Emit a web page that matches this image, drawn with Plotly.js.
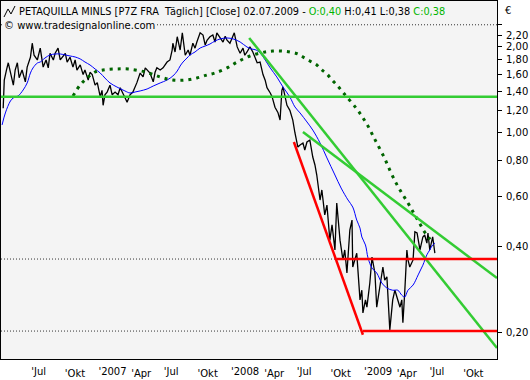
<!DOCTYPE html>
<html>
<head>
<meta charset="utf-8">
<script src="https://cdn.plot.ly/plotly-3.0.1.min.js"></script>
<style>html,body{margin:0;padding:0;background:#fff;}#chart{width:530px;height:380px;}</style>
</head>
<body>
<div id="chart"></div>
<script>
// ---- price (close) ----
const priceDates = ["2006-04-11","2006-04-14","2006-04-20","2006-04-25","2006-05-01","2006-05-09","2006-05-14","2006-05-20","2006-05-25","2006-06-02","2006-06-11","2006-06-16","2006-06-25","2006-06-30","2006-07-05","2006-07-14","2006-07-22","2006-07-30","2006-08-07","2006-08-13","2006-08-18","2006-08-27","2006-09-01","2006-09-09","2006-09-15","2006-09-20","2006-09-29","2006-10-04","2006-10-12","2006-10-20","2006-10-26","2006-10-31","2006-11-09","2006-11-17","2006-11-22","2006-12-01","2006-12-06","2006-12-12","2006-12-20","2006-12-26","2007-01-03","2007-01-08","2007-01-11","2007-01-16","2007-01-22","2007-01-30","2007-02-05","2007-02-13","2007-02-21","2007-02-27","2007-03-04","2007-03-12","2007-03-18","2007-03-26","2007-04-03","2007-04-09","2007-04-14","2007-04-23","2007-05-01","2007-05-07","2007-05-12","2007-05-20","2007-05-29","2007-06-03","2007-06-08","2007-06-17","2007-06-25","2007-07-01","2007-07-06","2007-07-14","2007-07-20","2007-07-22","2007-07-28","2007-08-03","2007-08-11","2007-08-17","2007-08-25","2007-09-02","2007-09-07","2007-09-15","2007-09-21","2007-09-26","2007-10-05","2007-10-13","2007-10-19","2007-10-24","2007-11-01","2007-11-09","2007-11-15","2007-11-20","2007-11-29","2007-12-07","2007-12-13","2007-12-18","2007-12-26","2008-01-02","2008-01-07","2008-01-15","2008-01-23","2008-01-31","2008-02-05","2008-02-11","2008-02-19","2008-02-27","2008-03-04","2008-03-10","2008-03-18","2008-03-26","2008-04-01","2008-04-06","2008-04-15","2008-04-20","2008-04-28","2008-05-06","2008-05-12","2008-05-17","2008-05-20","2008-05-26","2008-05-31","2008-06-08","2008-06-16","2008-06-22","2008-06-27","2008-06-30","2008-07-06","2008-07-14","2008-07-19","2008-07-25","2008-08-02","2008-08-10","2008-08-16","2008-08-21","2008-08-30","2008-09-04","2008-09-12","2008-09-18","2008-09-26","2008-10-02","2008-10-10","2008-10-15","2008-10-24","2008-11-01","2008-11-06","2008-11-12","2008-11-20","2008-11-26","2008-11-28","2008-12-04","2008-12-09","2008-12-18","2008-12-23","2008-12-26","2009-01-02","2009-01-06","2009-01-14","2009-01-20","2009-01-28","2009-02-02","2009-02-11","2009-02-19","2009-02-24","2009-03-02","2009-03-10","2009-03-16","2009-03-18","2009-03-24","2009-03-30","2009-04-07","2009-04-12","2009-04-15","2009-04-20","2009-04-26","2009-04-29","2009-05-04","2009-05-13","2009-05-18","2009-05-24","2009-06-01","2009-06-09","2009-06-14","2009-06-20","2009-06-23","2009-06-28","2009-07-04","2009-07-06","2009-07-12"];
const priceValues = [1.22,1.53,1.66,1.76,1.63,1.47,1.66,1.76,1.56,1.66,1.51,1.70,1.84,2.06,1.87,1.80,1.98,1.70,1.80,1.69,1.90,1.80,1.90,1.98,1.80,1.84,1.90,1.77,1.84,1.70,1.80,1.66,1.73,1.60,1.66,1.53,1.63,1.60,1.47,1.50,1.34,1.41,1.25,1.36,1.39,1.47,1.36,1.39,1.36,1.44,1.39,1.33,1.28,1.36,1.39,1.44,1.50,1.62,1.57,1.69,1.66,1.62,1.51,1.63,1.69,1.66,1.69,1.73,1.77,1.80,1.95,2.06,1.92,2.17,1.95,2.24,1.87,1.95,1.87,2.06,1.98,2.08,2.24,2.20,2.03,2.11,2.17,2.20,2.08,2.24,2.15,2.08,2.18,2.11,2.06,2.15,2.24,2.00,1.90,1.98,1.87,1.92,2.00,1.92,1.83,1.76,1.77,1.60,1.53,1.44,1.38,1.34,1.23,1.18,1.11,1.41,1.45,1.33,1.25,1.20,1.11,1.00,0.945,0.893,0.908,0.923,0.872,0.93,0.945,0.824,0.773,0.713,0.583,0.632,0.517,0.560,0.422,0.477,0.390,0.569,0.422,0.360,0.390,0.324,0.458,0.496,0.340,0.360,0.380,0.261,0.282,0.235,0.261,0.246,0.299,0.368,0.324,0.246,0.289,0.340,0.306,0.314,0.205,0.250,0.261,0.282,0.267,0.246,0.261,0.217,0.276,0.390,0.360,0.340,0.360,0.451,0.447,0.390,0.433,0.440,0.412,0.447,0.390,0.422,0.433,0.380];

// ---- moving average (blue) ----
const maDates = ["2006-04-08","2006-04-17","2006-05-01","2006-05-09","2006-05-22","2006-06-05","2006-06-16","2006-06-25","2006-07-02","2006-07-14","2006-07-22","2006-08-04","2006-08-18","2006-09-01","2006-09-15","2006-09-29","2006-10-12","2006-10-26","2006-11-09","2006-11-22","2006-12-06","2006-12-20","2007-01-03","2007-01-16","2007-01-30","2007-02-18","2007-03-12","2007-03-26","2007-04-09","2007-04-23","2007-05-12","2007-05-29","2007-06-17","2007-07-06","2007-07-22","2007-08-03","2007-08-11","2007-08-19","2007-08-30","2007-09-07","2007-09-21","2007-10-05","2007-10-19","2007-11-01","2007-11-15","2007-11-29","2007-12-18","2008-01-04","2008-01-23","2008-02-11","2008-02-24","2008-03-07","2008-03-18","2008-04-01","2008-04-15","2008-05-03","2008-05-20","2008-06-08","2008-06-22","2008-07-06","2008-07-25","2008-08-10","2008-08-30","2008-09-18","2008-10-10","2008-10-27","2008-11-15","2008-11-28","2008-12-09","2008-12-18","2008-12-23","2009-01-02","2009-01-09","2009-01-20","2009-02-02","2009-02-16","2009-03-02","2009-03-18","2009-04-01","2009-04-12","2009-04-20","2009-04-29","2009-05-13","2009-05-27","2009-06-09","2009-06-20","2009-06-28","2009-07-06","2009-07-12"];
const maValues = [1.067,1.175,1.294,1.326,1.347,1.414,1.496,1.621,1.688,1.757,1.771,1.829,1.874,1.889,1.889,1.874,1.859,1.844,1.815,1.771,1.729,1.674,1.621,1.557,1.496,1.448,1.403,1.380,1.391,1.403,1.425,1.460,1.496,1.532,1.582,1.647,1.715,1.771,1.829,1.874,1.920,1.982,2.014,2.047,2.097,2.132,2.149,2.132,2.081,1.998,1.966,1.951,1.904,1.800,1.688,1.570,1.448,1.336,1.233,1.175,1.093,1.024,0.923,0.818,0.713,0.642,0.583,0.551,0.496,0.465,0.433,0.406,0.366,0.337,0.324,0.299,0.287,0.282,0.282,0.271,0.267,0.282,0.294,0.319,0.345,0.375,0.390,0.406,0.412];

// ---- cycle indicator (dark green dotted) ----
const cycleDates = ["2006-10-20","2006-11-09","2006-12-01","2006-12-20","2007-01-11","2007-02-13","2007-03-21","2007-05-07","2007-06-17","2007-07-22","2007-08-25","2007-09-26","2007-10-24","2007-11-15","2007-12-18","2008-01-15","2008-02-19","2008-04-01","2008-04-22","2008-05-17","2008-06-08","2008-06-30","2008-07-14","2008-08-02","2008-08-21","2008-09-04","2008-09-18","2008-10-02","2008-10-15","2008-10-29","2008-11-12","2008-12-07","2008-12-21","2009-01-02","2009-01-12","2009-01-23","2009-02-02","2009-02-22","2009-03-10","2009-03-27","2009-04-12","2009-04-29","2009-05-10","2009-05-21","2009-06-01","2009-06-12","2009-06-26","2009-07-06"];
const cycleValues = [1.347,1.472,1.570,1.634,1.661,1.674,1.674,1.634,1.570,1.532,1.532,1.557,1.595,1.621,1.688,1.771,1.859,1.920,1.935,1.935,1.920,1.889,1.844,1.786,1.729,1.661,1.608,1.532,1.472,1.403,1.336,1.223,1.156,1.093,1.041,0.976,0.923,0.824,0.742,0.669,0.617,0.569,0.538,0.508,0.481,0.454,0.430,0.412];

// ---- drawn trend lines ----
const greenHorizDates = ["2006-04-05","2009-12-30"];
const greenHorizValues = [1.34,1.34];
const greenSteepDates = ["2008-02-17","2009-12-30"];
const greenSteepValues = [2.149,0.177];
const greenFlatDates = ["2008-07-14","2009-12-30"];
const greenFlatValues = [1.008,0.311];
const redDiagDates = ["2008-06-19","2008-12-26"];
const redDiagValues = [0.930,0.197];
const redUpperDates = ["2008-10-15","2009-12-30"];
const redUpperValues = [0.3625,0.3625];
const redLowerDates = ["2008-12-26","2009-12-30"];
const redLowerValues = [0.203,0.203];
const levelDates = ["2006-04-05","2009-12-30"];
const levelValues = [2.39,0.3625,0.203];

// ---- axes ----
const xRange = ["2006-04-05","2009-12-30"];
const julTicks = ["2006-07-01","2007-07-01","2008-07-01","2009-07-01"];
const julLabels = ["'Jul","'Jul","'Jul","'Jul"];
const monTicks = ["2006-10-01","2007-04-01","2007-10-01","2008-04-01","2008-10-01","2009-04-01","2009-10-01"];
const monLabels = ["'Okt","'Apr","'Okt","'Apr","'Okt","'Apr","'Okt"];
const yearTicks = ["2007-01-01","2008-01-01","2009-01-01"];
const yearLabels = ["'2007","'2008","'2009"];
const yTicks = [0.2,0.4,0.6,0.8,1.0,1.2,1.4,1.6,1.8,2.0,2.2,2.4];
const yLabels = ["0,20","0,40","0,60","0,80","1,00","1,20","1,40","1,60","1,80","2,00","2,20",""];

const F = "DejaVu Sans, sans-serif";
const traces = [];
levelValues.forEach(v => traces.push({x: levelDates, y: [v, v], mode: "lines", line: {color: "#333", width: 1, dash: "1px,2px"}}));
traces.push({x: priceDates, y: priceValues, mode: "lines", line: {color: "#000", width: 1.3}});
traces.push({x: maDates, y: maValues, mode: "lines", line: {color: "#0000ff", width: 1, shape: "spline"}});
traces.push({x: cycleDates, y: cycleValues, mode: "lines", line: {color: "#006400", width: 3, dash: "3px,5px", shape: "spline"}});
traces.push({x: greenHorizDates, y: greenHorizValues, mode: "lines", line: {color: "#33cc33", width: 2.5}});
traces.push({x: greenSteepDates, y: greenSteepValues, mode: "lines", line: {color: "#33cc33", width: 2.5}});
traces.push({x: greenFlatDates, y: greenFlatValues, mode: "lines", line: {color: "#33cc33", width: 2.5}});
traces.push({x: redDiagDates, y: redDiagValues, mode: "lines", line: {color: "#ff0000", width: 2.5}});
traces.push({x: redUpperDates, y: redUpperValues, mode: "lines", line: {color: "#ff0000", width: 2.5}});
traces.push({x: redLowerDates, y: redLowerValues, mode: "lines", line: {color: "#ff0000", width: 2.5}});
traces.push({x: xRange, y: [1, 1], xaxis: "x2", mode: "none"});
traces.push({x: xRange, y: [1, 1], xaxis: "x3", mode: "none"});
traces.forEach(t => { t.showlegend = false; t.hoverinfo = "skip"; });

const xBase = {type: "date", range: xRange, showgrid: false, zeroline: false, ticks: "", ticklabelstandoff: 5,
  tickfont: {family: F, size: 10, color: "#000"}, tickmode: "array"};
const layout = {
  width: 530, height: 380,
  margin: {l: 1, r: 33, t: 1, b: 21},
  paper_bgcolor: "#ffffff", plot_bgcolor: "#f4f4f4",
  showlegend: false,
  xaxis: Object.assign({}, xBase, {tickvals: monTicks, ticktext: monLabels, ticklabelshift: 9, showline: true, mirror: true, linecolor: "#000", linewidth: 1}),
  xaxis2: Object.assign({}, xBase, {overlaying: "x", side: "bottom", tickvals: julTicks, ticktext: julLabels, ticklabelshift: 6}),
  xaxis3: Object.assign({}, xBase, {overlaying: "x", side: "bottom", tickvals: yearTicks, ticktext: yearLabels, ticklabelshift: 13}),
  yaxis: {type: "log", range: [-0.7902, 0.4615], side: "right", showgrid: false, zeroline: false,
    showline: true, mirror: true, linecolor: "#000", linewidth: 1,
    ticks: "outside", ticklen: 4, tickcolor: "#000", ticklabelstandoff: 2, tickmode: "array", tickvals: yTicks, ticktext: yLabels,
    tickfont: {family: F, size: 10, color: "#000"}},
  annotations: [
    {xref: "paper", yref: "paper", x: 0.0325, y: (359 - 11) / 358, xanchor: "left", yanchor: "middle", showarrow: false,
     font: {family: F, size: 9.75, color: "#000"},
     text: "PETAQUILLA MINLS [P7Z FRA\u00a0 Täglich] [Close] 02.07.2009 - <span style='color:#00b400'>O:0,40</span> H:0,41 L:0,38 <span style='color:#00b400'>C:0,38</span>"},
    {xref: "paper", yref: "paper", x: 0.004, y: (359 - 25) / 358, xanchor: "left", yanchor: "middle", showarrow: false,
     font: {family: F, size: 10, color: "#000"}, bgcolor: "#f4f4f4", borderpad: 0,
     text: "© www.tradesignalonline.com"},
    {xref: "paper", yref: "paper", x: 1.012, y: (359 - 10) / 358, xanchor: "left", yanchor: "middle", showarrow: false,
     font: {family: F, size: 10, color: "#000"}, text: "€"}
  ],
  shapes: [
    {type: "path", xref: "paper", yref: "paper", path: "M 0.00605 0.9553 L 0.01411 0.9777 L 0.02016 0.9637 L 0.02823 0.9860", line: {color: "#000", width: 1}}
  ]
};
Plotly.newPlot("chart", traces, layout, {staticPlot: true, displayModeBar: false});
</script>
</body>
</html>
